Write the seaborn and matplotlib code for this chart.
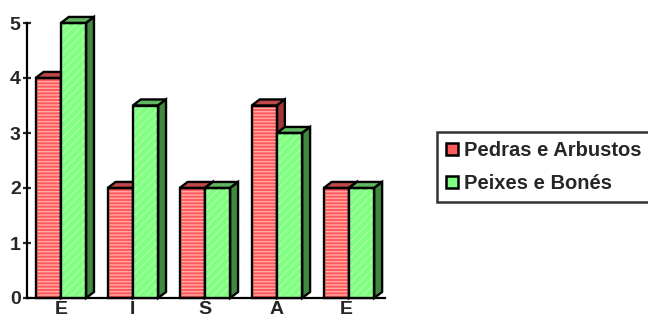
import pandas as pd
import numpy as np
import matplotlib
matplotlib.use("Agg")
import matplotlib.pyplot as plt
import seaborn as sns
from matplotlib.patches import Polygon, Rectangle, Patch

# Dados do gráfico
categorias = ["E", "I", "S", "A", "E "]
series = ["Pedras e Arbustos", "Peixes e Bonés"]
pedras = [4, 2, 2, 3.5, 2]
peixes = [5, 3.5, 2, 3, 2]

df = pd.DataFrame({
    "cat": categorias * 2,
    "valor": pedras + peixes,
    "serie": [series[0]] * 5 + [series[1]] * 5,
})

sns.set_style("white")
plt.rcParams["font.family"] = ["Liberation Sans", "DejaVu Sans"]
plt.rcParams["font.weight"] = "bold"

# cores: frente, listras, topo, lado
cores = {
    series[0]: dict(frente="#ff5a5a", listra="#ffa8a8", topo="#c04848", lado="#a03838", hatch="-----"),
    series[1]: dict(frente="#80ff80", listra="#a8ffa8", topo="#60b860", lado="#3f8a3f", hatch="////"),
}

fig = plt.figure(figsize=(6.48, 3.22), dpi=100)
ax = fig.add_axes([27 / 648, 1 - 298 / 322, (385 - 27) / 648, (298 - 23) / 322])

sns.barplot(data=df, x="cat", y="valor", hue="serie", hue_order=series,
            palette=[cores[s]["frente"] for s in series], width=0.7,
            saturation=1, legend=False, ax=ax)

dx, dy = 0.11, 0.11
for zo, (serie, cont) in enumerate(zip(series, ax.containers)):
    c = cores[serie]
    for p in cont.patches:
        x, w, h = p.get_x(), p.get_width(), p.get_height()
        z = 2 + zo * 3
        p.set_zorder(z)
        p.set_edgecolor("none")
        p.set_clip_on(False)
        # listras
        ax.add_patch(Rectangle((x, 0), w, h, facecolor="none", edgecolor=c["listra"],
                               hatch=c["hatch"], lw=0, zorder=z + 0.1, clip_on=False))
        ax.add_patch(Rectangle((x, 0), w, h, facecolor="none", edgecolor="black",
                               lw=1.7, zorder=z + 0.2, clip_on=False))
        topo = [(x, h), (x + w, h), (x + w + dx, h + dy), (x + dx, h + dy)]
        lado = [(x + w, 0), (x + w, h), (x + w + dx, h + dy), (x + w + dx, dy)]
        ax.add_patch(Polygon(topo, closed=True, facecolor=c["topo"], edgecolor="black",
                             lw=1.7, zorder=z, clip_on=False, joinstyle="miter"))
        ax.add_patch(Polygon(lado, closed=True, facecolor=c["lado"], edgecolor="black",
                             lw=1.7, zorder=z, clip_on=False, joinstyle="miter"))

ax.set_xlim(-0.47, 4.5)
ax.set_ylim(0, 5)
ax.set_yticks([0, 1, 2, 3, 4, 5])
ax.set_xlabel("")
ax.set_ylabel("")
sns.despine(ax=ax)
for s in ["left", "bottom"]:
    ax.spines[s].set_linewidth(1.6)
    ax.spines[s].set_color("black")
ax.tick_params(axis="y", length=6, width=1.6, direction="inout", left=True, pad=1.5,
               labelsize=14)
ax.tick_params(axis="x", length=0, pad=2.5, labelsize=14)
for t in ax.get_xticklabels() + ax.get_yticklabels():
    t.set_fontweight("bold")

handles = [Patch(facecolor=cores[s]["frente"], edgecolor="black", lw=1.8,
                 hatch=None) for s in series]
leg = fig.legend(handles, series, loc="upper left",
                 bbox_to_anchor=(437 / 648, 1 - 132 / 322),
                 frameon=True, fancybox=False, shadow=False,
                 handlelength=0.6, handleheight=0.6, handletextpad=0.3,
                 borderpad=0.45, borderaxespad=0, labelspacing=0.7,
                 prop={"size": 14.5, "weight": "bold"})
leg.get_frame().set_edgecolor("black")
leg.get_frame().set_linewidth(1.8)

fig.savefig("out.png", dpi=100)
